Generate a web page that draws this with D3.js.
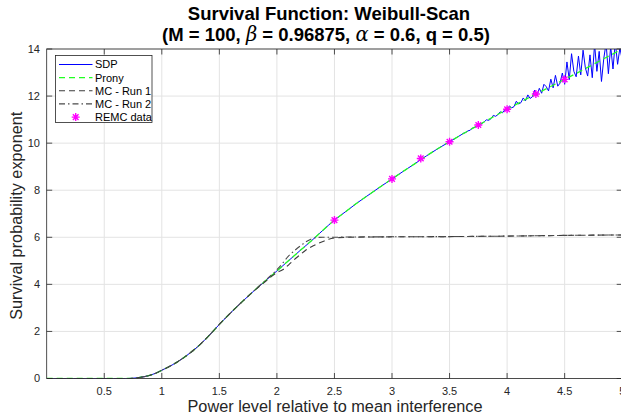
<!DOCTYPE html>
<html>
<head>
<meta charset="utf-8">
<script src="https://cdn.jsdelivr.net/npm/d3@7"></script>
<style>
  html, body { margin: 0; padding: 0; background: #fff; }
  svg { display: block; }
  text { font-family: "Liberation Sans", Arial, Helvetica, sans-serif; }
</style>
</head>
<body>
<svg id="chart" width="621" height="414"></svg>
<script>
// ---------------- data ----------------
const xTicks = [0.5, 1, 1.5, 2, 2.5, 3, 3.5, 4, 4.5, 5];
const xTickLabels = ["0.5", "1", "1.5", "2", "2.5", "3", "3.5", "4", "4.5", "5"];
const yTicks = [0, 2, 4, 6, 8, 10, 12, 14];
const yTickLabels = ["0", "2", "4", "6", "8", "10", "12", "14"];

// smooth curve (Prony fit)
const curveX = [0, 0.5, 0.7, 0.75, 0.8, 0.85, 0.9, 0.95, 1.0, 1.1, 1.2, 1.3, 1.4, 1.5, 1.6, 1.7, 1.8, 1.9, 2.0,
  2.1, 2.2, 2.3, 2.4, 2.5, 2.6, 2.7, 2.8, 2.9, 3.0, 3.1, 3.2, 3.3, 3.4, 3.5, 3.6, 3.7, 3.8, 3.9, 4.0,
  4.1, 4.2, 4.3, 4.4, 4.5, 4.6, 4.7, 4.8, 4.9, 5.0];
const pronyY = [0, 0, 0, 0.01, 0.04, 0.08, 0.14, 0.23, 0.35, 0.6, 0.92, 1.3, 1.77, 2.3, 2.8, 3.27, 3.72, 4.15, 4.57,
  5.0, 5.43, 5.85, 6.3, 6.73, 7.1, 7.47, 7.81, 8.15, 8.48, 8.81, 9.13, 9.46, 9.77, 10.06, 10.35, 10.63, 10.9, 11.17, 11.44,
  11.7, 11.96, 12.21, 12.46, 12.71, 12.96, 13.22, 13.48, 13.74, 14.0];

// SDP: smooth part (x <= 3.6) then noisy tail sampled every 0.02
const sdpHeadX = [0, 0.5, 0.7, 0.75, 0.8, 0.85, 0.9, 0.95, 1.0, 1.1, 1.2, 1.3, 1.4, 1.5, 1.6, 1.7, 1.8, 1.9, 2.0,
  2.1, 2.2, 2.3, 2.4, 2.5, 2.6, 2.7, 2.8, 2.9, 3.0, 3.1, 3.2, 3.3, 3.4, 3.5, 3.6];
const sdpHeadY = [0, 0, 0, 0.01, 0.04, 0.08, 0.14, 0.23, 0.35, 0.6, 0.92, 1.3, 1.77, 2.3, 2.8, 3.27, 3.72, 4.15, 4.57,
  5.0, 5.43, 5.85, 6.3, 6.73, 7.1, 7.47, 7.81, 8.15, 8.48, 8.81, 9.13, 9.46, 9.77, 10.06, 10.35];
const sdpTailStart = 3.6, sdpTailStep = 0.02;
const sdpTailY = [
  10.35, 10.42, 10.45, 10.52, 10.55, 10.65, 10.67, 10.73, 10.82, 10.83,
  10.90, 10.99, 10.97, 11.04, 11.18, 11.14, 11.21, 11.33, 11.29, 11.42,
  11.40, 11.58, 11.50, 11.55, 11.78, 11.66, 11.72, 11.92, 11.80, 12.05,
  11.90, 11.97, 12.25, 12.02, 12.33, 12.12, 12.50, 12.40, 12.22, 12.72,
  12.35, 12.88, 12.42, 12.55, 12.98, 12.50, 13.45, 12.70, 13.80, 13.05,
  12.82, 13.70, 12.90, 13.95, 13.20, 12.85, 13.75, 12.78, 14.20, 13.05,
  13.90, 12.62, 13.60, 14.25, 12.95, 14.10, 13.15, 14.30, 13.35, 14.05,
  13.55];

// Monte Carlo runs
const mcX = [0, 0.5, 0.7, 0.75, 0.8, 0.85, 0.9, 0.95, 1.0, 1.1, 1.2, 1.3, 1.4, 1.5, 1.6, 1.7, 1.8, 1.9, 2.0,
  2.05, 2.1, 2.15, 2.2, 2.25, 2.3, 2.35, 2.4, 2.45, 2.5, 2.6, 3.0, 3.5, 4.0, 4.5, 5.0];
const mc1Y = [0, 0, 0, 0.01, 0.04, 0.08, 0.14, 0.23, 0.35, 0.6, 0.92, 1.3, 1.77, 2.3, 2.8, 3.27, 3.72, 4.12, 4.5,
  4.62, 4.82, 5.05, 5.25, 5.45, 5.6, 5.72, 5.82, 5.92, 5.97, 6.0, 6.02, 6.03, 6.05, 6.08, 6.1];
const mc2Y = [0, 0, 0, 0.01, 0.04, 0.08, 0.14, 0.23, 0.35, 0.6, 0.92, 1.3, 1.77, 2.3, 2.8, 3.27, 3.72, 4.17, 4.62,
  4.9, 5.2, 5.42, 5.62, 5.8, 5.93, 5.99, 6.0, 6.0, 6.0, 6.01, 6.02, 6.03, 6.05, 6.08, 6.1];

// REMC data points
const remcX = [2.5, 3.0, 3.25, 3.5, 3.75, 4.0, 4.25, 4.5];
const remcY = [6.73, 8.48, 9.35, 10.06, 10.77, 11.44, 12.09, 12.71];

const legendLabels = ["SDP", "Prony", "MC - Run 1", "MC - Run 2", "REMC data"];

// ---------------- drawing ----------------
const svg = d3.select("#chart");
const axisColor = "#262626";

const x = d3.scaleLinear().domain([0, 5]).range([46.7, 622.2]);
const y = d3.scaleLinear().domain([0, 14]).range([378.5, 49]);

const L = x.range()[0], R = x.range()[1], T = y.range()[1], B = y.range()[0];

// grid
const grid = svg.append("g");
grid.selectAll("line.gx").data(xTicks).join("line")
  .attr("x1", d => x(d)).attr("x2", d => x(d)).attr("y1", T).attr("y2", B)
  .attr("stroke", "#e3e3e3").attr("stroke-width", 1);
grid.selectAll("line.gy").data(yTicks).join("line")
  .attr("y1", d => y(d)).attr("y2", d => y(d)).attr("x1", L).attr("x2", R)
  .attr("stroke", "#e3e3e3").attr("stroke-width", 1);

// clip
svg.append("defs").append("clipPath").attr("id", "clip")
  .append("rect").attr("x", L).attr("y", T).attr("width", R - L).attr("height", B - T);

const plot = svg.append("g").attr("clip-path", "url(#clip)");

const smoothLine = d3.line().x(d => x(d[0])).y(d => y(d[1])).curve(d3.curveMonotoneX);
const rawLine = d3.line().x(d => x(d[0])).y(d => y(d[1])).curve(d3.curveLinear);

const sdpHead = sdpHeadX.map((v, i) => [v, sdpHeadY[i]]);
const sdpTail = sdpTailY.map((v, i) => [sdpTailStart + i * sdpTailStep, v]);
const pronyData = curveX.map((v, i) => [v, pronyY[i]]);
const mc1Data = mcX.map((v, i) => [v, mc1Y[i]]);
const mc2Data = mcX.map((v, i) => [v, mc2Y[i]]);

const styles = {
  sdp: { stroke: "#0000ff", width: 1, dash: null },
  prony: { stroke: "#22ff22", width: 1.3, dash: "6 4" },
  mc1: { stroke: "#3c3c3c", width: 1.1, dash: "6 4" },
  mc2: { stroke: "#4a4a4a", width: 1.1, dash: "6 3 1.5 3" }
};

function drawLine(data, st, gen) {
  plot.append("path").datum(data).attr("d", gen)
    .attr("fill", "none").attr("stroke", st.stroke).attr("stroke-width", st.width)
    .attr("stroke-dasharray", st.dash).attr("stroke-linejoin", "round");
}
drawLine(sdpHead, styles.sdp, smoothLine);
drawLine(sdpTail, styles.sdp, rawLine);
drawLine(pronyData, styles.prony, smoothLine);
drawLine(mc1Data, styles.mc1, smoothLine);
drawLine(mc2Data, styles.mc2, smoothLine);

// asterisk marker (+ and x)
const star = {
  draw(ctx, size) {
    const r = Math.sqrt(size) / 2;
    const d = r * Math.SQRT1_2;
    ctx.moveTo(-r, 0); ctx.lineTo(r, 0);
    ctx.moveTo(0, -r); ctx.lineTo(0, r);
    ctx.moveTo(-d, -d); ctx.lineTo(d, d);
    ctx.moveTo(-d, d); ctx.lineTo(d, -d);
  }
};
const starPath = d3.symbol().type(star).size(64);
plot.selectAll("path.remc").data(remcX.map((v, i) => [v, remcY[i]])).join("path")
  .attr("class", "remc")
  .attr("transform", d => `translate(${x(d[0])},${y(d[1])})`)
  .attr("d", starPath)
  .attr("fill", "none").attr("stroke", "#ff00ff").attr("stroke-width", 1.4);

// axes box
const ax = svg.append("g");
ax.append("rect").attr("x", L).attr("y", T).attr("width", R - L).attr("height", B - T)
  .attr("fill", "none").attr("stroke", axisColor).attr("stroke-width", 0.8);
const tl = 5.5;
ax.selectAll("line.tb").data(xTicks).join("line")
  .attr("x1", d => x(d)).attr("x2", d => x(d)).attr("y1", B).attr("y2", B - tl)
  .attr("stroke", axisColor).attr("stroke-width", 0.8);
ax.selectAll("line.tt").data(xTicks).join("line")
  .attr("x1", d => x(d)).attr("x2", d => x(d)).attr("y1", T).attr("y2", T + tl)
  .attr("stroke", axisColor).attr("stroke-width", 0.8);
ax.selectAll("line.tl").data(yTicks).join("line")
  .attr("y1", d => y(d)).attr("y2", d => y(d)).attr("x1", L).attr("x2", L + tl)
  .attr("stroke", axisColor).attr("stroke-width", 0.8);
ax.selectAll("line.tr").data(yTicks).join("line")
  .attr("y1", d => y(d)).attr("y2", d => y(d)).attr("x1", R).attr("x2", R - tl)
  .attr("stroke", axisColor).attr("stroke-width", 0.8);

ax.selectAll("text.xl").data(xTicks).join("text")
  .attr("x", d => x(d)).attr("y", 395)
  .attr("text-anchor", "middle").attr("font-size", 11).attr("fill", axisColor)
  .text((d, i) => xTickLabels[i]);
ax.selectAll("text.yl").data(yTicks).join("text")
  .attr("x", 40).attr("y", d => y(d)).attr("dy", "0.35em")
  .attr("text-anchor", "end").attr("font-size", 11).attr("fill", axisColor)
  .text((d, i) => yTickLabels[i]);

// axis labels
svg.append("text").attr("x", 335).attr("y", 412)
  .attr("text-anchor", "middle").attr("font-size", 16.3).attr("fill", axisColor)
  .text("Power level relative to mean interference");
svg.append("text").attr("transform", `translate(22,${(T + B) / 2 + 2}) rotate(-90)`)
  .attr("text-anchor", "middle").attr("font-size", 16.3).attr("fill", axisColor)
  .text("Survival probability exponent");

// title
const title = svg.append("text").attr("text-anchor", "middle").attr("font-weight", "bold")
  .attr("font-size", 18.5).attr("fill", "#000");
title.append("tspan").attr("x", 329).attr("y", 19.5).text("Survival Function: Weibull-Scan");
const t2 = title.append("tspan").attr("x", 326).attr("y", 40.5);
t2.append("tspan").text("(M = 100, ");
t2.append("tspan").attr("font-family", "'DejaVu Serif', 'Liberation Serif', serif").attr("font-style", "italic").attr("font-weight", "normal").attr("font-size", 19.5).text("β");
t2.append("tspan").text(" = 0.96875, ");
t2.append("tspan").attr("font-family", "'DejaVu Serif', 'Liberation Serif', serif").attr("font-style", "italic").attr("font-weight", "normal").attr("font-size", 19.5).text("α");
t2.append("tspan").text(" = 0.6, q = 0.5)");

// legend
const lg = svg.append("g");
lg.append("rect").attr("x", 55.5).attr("y", 55.5).attr("width", 96.5).attr("height", 67)
  .attr("fill", "#fff").attr("stroke", axisColor).attr("stroke-width", 0.8);
const legendY = [64.5, 77.6, 90.8, 103.9, 117.1];
const legendStyles = [styles.sdp, styles.prony, styles.mc1, styles.mc2];
legendStyles.forEach((st, i) => {
  lg.append("line").attr("x1", 59).attr("x2", 92.5).attr("y1", legendY[i]).attr("y2", legendY[i])
    .attr("stroke", st.stroke).attr("stroke-width", st.width).attr("stroke-dasharray", st.dash);
});
lg.append("path").attr("transform", `translate(75.7,${legendY[4]})`).attr("d", starPath)
  .attr("fill", "none").attr("stroke", "#ff00ff").attr("stroke-width", 1.4);
lg.selectAll("text").data(legendLabels).join("text")
  .attr("x", 95).attr("y", (d, i) => legendY[i]).attr("dy", "0.36em")
  .attr("font-size", 11).attr("fill", "#000").text(d => d);
</script>
</body>
</html>
